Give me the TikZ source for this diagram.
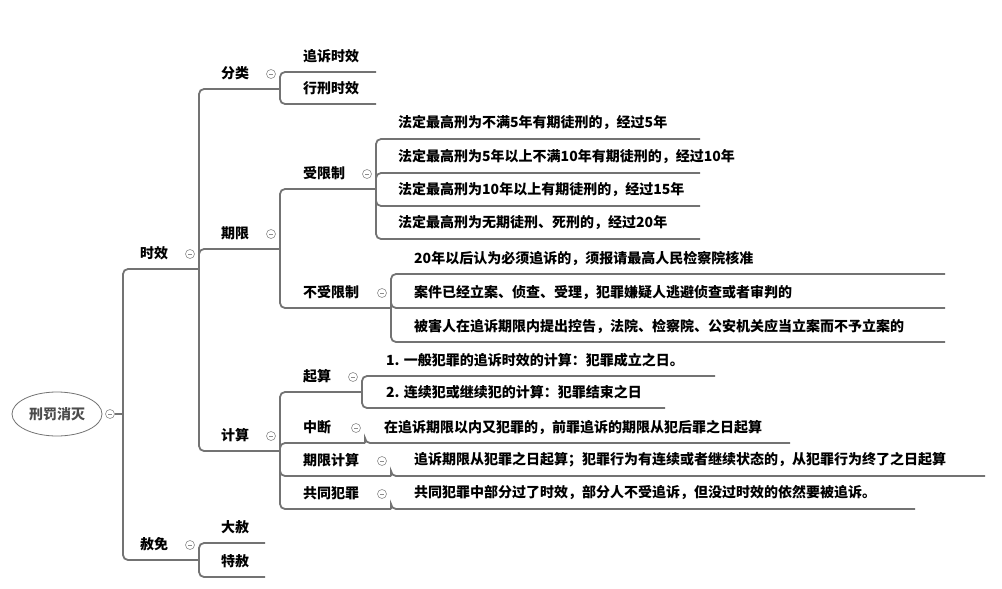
\documentclass[tikz,border=0pt]{standalone}
\usepackage{fontspec}
\setmainfont{Noto Sans CJK SC}
\usetikzlibrary{positioning, shapes.geometric, calc}
% one topic: name, line start, line end, line y, text x, text
\newcommand{\topic}[6]{%
  \coordinate (#1-s) at (#2,#4);
  \coordinate (#1-e) at (#3,#4);
  \node[Topic] (#1) at (#5,#4-16) {#6};
}
\newcommand{\fold}[1]{\node[Fold] at ($(#1-e)+(-9,-15)$) {};}

\begin{document}
\begin{tikzpicture}
  [
    x=1pt, y=-1pt,
    Topic/.style={anchor=west, inner sep=0pt, font=\fontsize{14pt}{16pt}\selectfont\bfseries},
    Link/.style={draw=black!55, line width=1.8pt, rounded corners=5pt},
    Fold/.style={circle, draw=black!45, fill=white, line width=0.6pt, minimum size=9pt, inner sep=0pt,
      path picture={\draw[black!45, line width=0.6pt] ([xshift=-2pt]path picture bounding box.center) -- ([xshift=2pt]path picture bounding box.center);}},
    Root/.style={ellipse, draw=black!55, line width=0.8pt, minimum width=90pt, minimum height=44pt, font=\fontsize{14pt}{16pt}\selectfont\bfseries, text=black!70}
  ]
  \useasboundingbox (0,0) rectangle (1002,589);
  % Nodes
  \node[Root] (root) at (57,414) {刑罚消灭};
  \node[Fold] (rootfold) at (110,414) {};
  \coordinate (root-e) at (123,414);
  \topic{sx}{123}{199}{269}{140}{时效}
  \topic{sm}{123}{199}{560}{140}{赦免}
  \topic{fl}{199}{280}{89}{221}{分类}
  \topic{qx}{199}{280}{249}{221}{期限}
  \topic{js}{199}{280}{451}{221}{计算}
  \topic{ds}{199}{265}{543}{221}{大赦}
  \topic{ts}{199}{265}{577}{221}{特赦}
  \topic{zs}{280}{376}{72}{303}{追诉时效}
  \topic{xx}{280}{376}{104}{303}{行刑时效}
  \topic{sxz}{280}{376}{189}{303}{受限制}
  \topic{bsxz}{280}{391}{308}{303}{不受限制}
  \topic{qs}{280}{362}{392}{303}{起算}
  \topic{zd}{280}{365}{443}{303}{中断}
  \topic{qxjs}{280}{391}{476}{303}{期限计算}
  \topic{gt}{280}{391}{509}{303}{共同犯罪}
  \topic{a1}{377}{700}{139}{398}{法定最高刑为不满5年有期徒刑的，经过5年}
  \topic{a2}{377}{700}{173}{398}{法定最高刑为5年以上不满10年有期徒刑的，经过10年}
  \topic{a3}{377}{700}{206}{398}{法定最高刑为10年以上有期徒刑的，经过15年}
  \topic{a4}{377}{700}{239}{398}{法定最高刑为无期徒刑、死刑的，经过20年}
  \topic{b1}{391}{945}{274}{414}{20年以后认为必须追诉的，须报请最高人民检察院核准}
  \topic{b2}{391}{945}{308}{414}{案件已经立案、侦查、受理，犯罪嫌疑人逃避侦查或者审判的}
  \topic{b3}{391}{945}{342}{414}{被害人在追诉期限内提出控告，法院、检察院、公安机关应当立案而不予立案的}
  \topic{c1}{362}{715}{376}{386}{1. 一般犯罪的追诉时效的计算：犯罪成立之日。}
  \topic{c2}{362}{665}{408}{386}{2. 连续犯或继续犯的计算：犯罪结束之日}
  \topic{d1}{365}{790}{443}{384}{在追诉期限以内又犯罪的，前罪追诉的期限从犯后罪之日起算}
  \topic{e1}{391}{985}{476}{414}{追诉期限从犯罪之日起算；犯罪行为有连续或者继续状态的，从犯罪行为终了之日起算}
  \topic{f1}{391}{915}{509}{414}{共同犯罪中部分过了时效，部分人不受追诉，但没过时效的依然要被追诉。}
  % Lines
  \path[Link] (rootfold) -- (root-e);
  \foreach \p/\c in {root/sx, root/sm, sx/fl, sx/qx, sx/js, sm/ds, sm/ts, fl/zs, fl/xx,
    qx/sxz, qx/bsxz, js/qs, js/zd, js/qxjs, js/gt, sxz/a1, sxz/a2, sxz/a3, sxz/a4,
    bsxz/b1, bsxz/b2, bsxz/b3, qs/c1, qs/c2, zd/d1, qxjs/e1, gt/f1}
    {\path[Link] (\p-e) |- (\c-e);}
  \foreach \n in {sx, sm, fl, qx, js, sxz, bsxz, qs, zd, qxjs, gt}
    {\fold{\n}}
\end{tikzpicture}
\end{document}
